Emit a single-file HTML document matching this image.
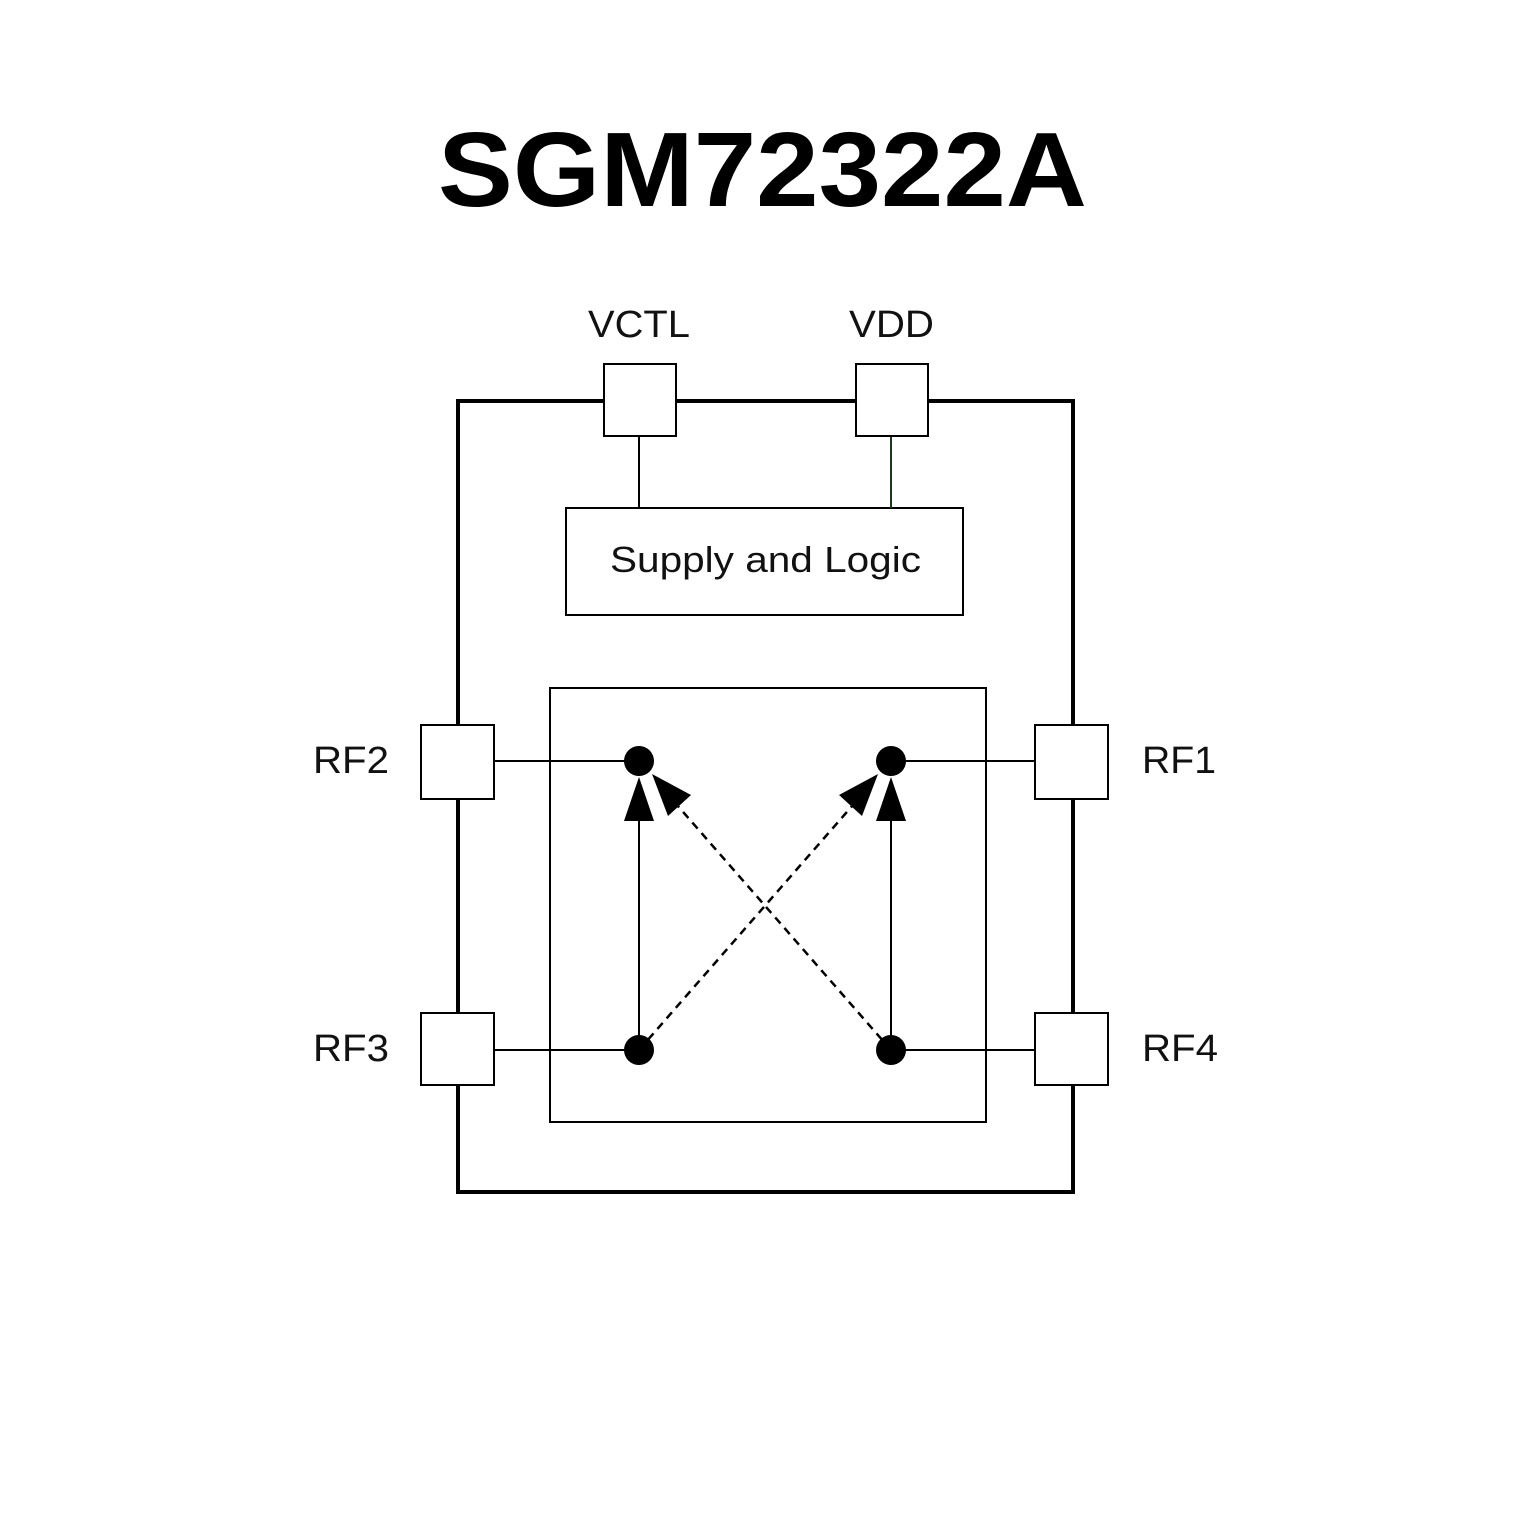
<!DOCTYPE html>
<html><head><meta charset="utf-8"><style>html,body{margin:0;padding:0;background:#fff}svg{display:block}</style></head>
<body>
<svg width="1535" height="1535" viewBox="0 0 1535 1535" xmlns="http://www.w3.org/2000/svg">
<rect width="1535" height="1535" fill="#fff"/>
<text x="438" y="206" font-family="Liberation Sans, sans-serif" font-weight="bold" font-size="106" textLength="649" lengthAdjust="spacingAndGlyphs">SGM72322A</text>
<rect x="458" y="401" width="615" height="791" fill="none" stroke="#000" stroke-width="4"/>
<rect x="566" y="508" width="397" height="107" fill="#fff" stroke="#000" stroke-width="2"/>
<rect x="550" y="688" width="436" height="434" fill="none" stroke="#000" stroke-width="2"/>
<g font-family="Liberation Sans, sans-serif" font-size="38" fill="#111">
<text x="588" y="337" textLength="102" lengthAdjust="spacingAndGlyphs">VCTL</text>
<text x="849" y="337" textLength="85" lengthAdjust="spacingAndGlyphs">VDD</text>
<text x="313" y="773" textLength="76" lengthAdjust="spacingAndGlyphs">RF2</text>
<text x="313" y="1061" textLength="76" lengthAdjust="spacingAndGlyphs">RF3</text>
<text x="1142" y="773" textLength="74" lengthAdjust="spacingAndGlyphs">RF1</text>
<text x="1142" y="1061" textLength="76" lengthAdjust="spacingAndGlyphs">RF4</text>
<text x="610" y="572" font-size="36" textLength="311" lengthAdjust="spacingAndGlyphs">Supply and Logic</text>
</g>
<g stroke="#000" stroke-width="2">
<line x1="639" y1="436" x2="639" y2="508"/>
<line x1="891" y1="436" x2="891" y2="508" stroke="#1a3a1a"/>
<line x1="494" y1="761" x2="639" y2="761"/>
<line x1="494" y1="1050" x2="639" y2="1050"/>
<line x1="891" y1="761" x2="1035" y2="761"/>
<line x1="891" y1="1050" x2="1035" y2="1050"/>
<line x1="639" y1="1050" x2="639" y2="815"/>
<line x1="891" y1="1050" x2="891" y2="815"/>
</g>
<g stroke="#000" stroke-width="2.5" stroke-dasharray="8,6">
<line x1="639" y1="1050" x2="853" y2="805"/>
<line x1="891" y1="1050" x2="677" y2="805"/>
</g>
<g fill="#fff" stroke="#000" stroke-width="2">
<rect x="604" y="364" width="72" height="72"/>
<rect x="856" y="364" width="72" height="72"/>
<rect x="421" y="725" width="73" height="74"/>
<rect x="421" y="1013" width="73" height="72"/>
<rect x="1035" y="725" width="73" height="74"/>
<rect x="1035" y="1013" width="73" height="72"/>
</g>
<g fill="#000">
<circle cx="639" cy="761" r="15"/>
<circle cx="891" cy="761" r="15"/>
<circle cx="639" cy="1050" r="15"/>
<circle cx="891" cy="1050" r="15"/>
<polygon points="639,777 624,821 654,821"/>
<polygon points="891,777 876,821 906,821"/>
<polygon points="652,774 668,816 691,795"/>
<polygon points="878,774 862,816 839,795"/>
</g>
</svg>
</body></html>
